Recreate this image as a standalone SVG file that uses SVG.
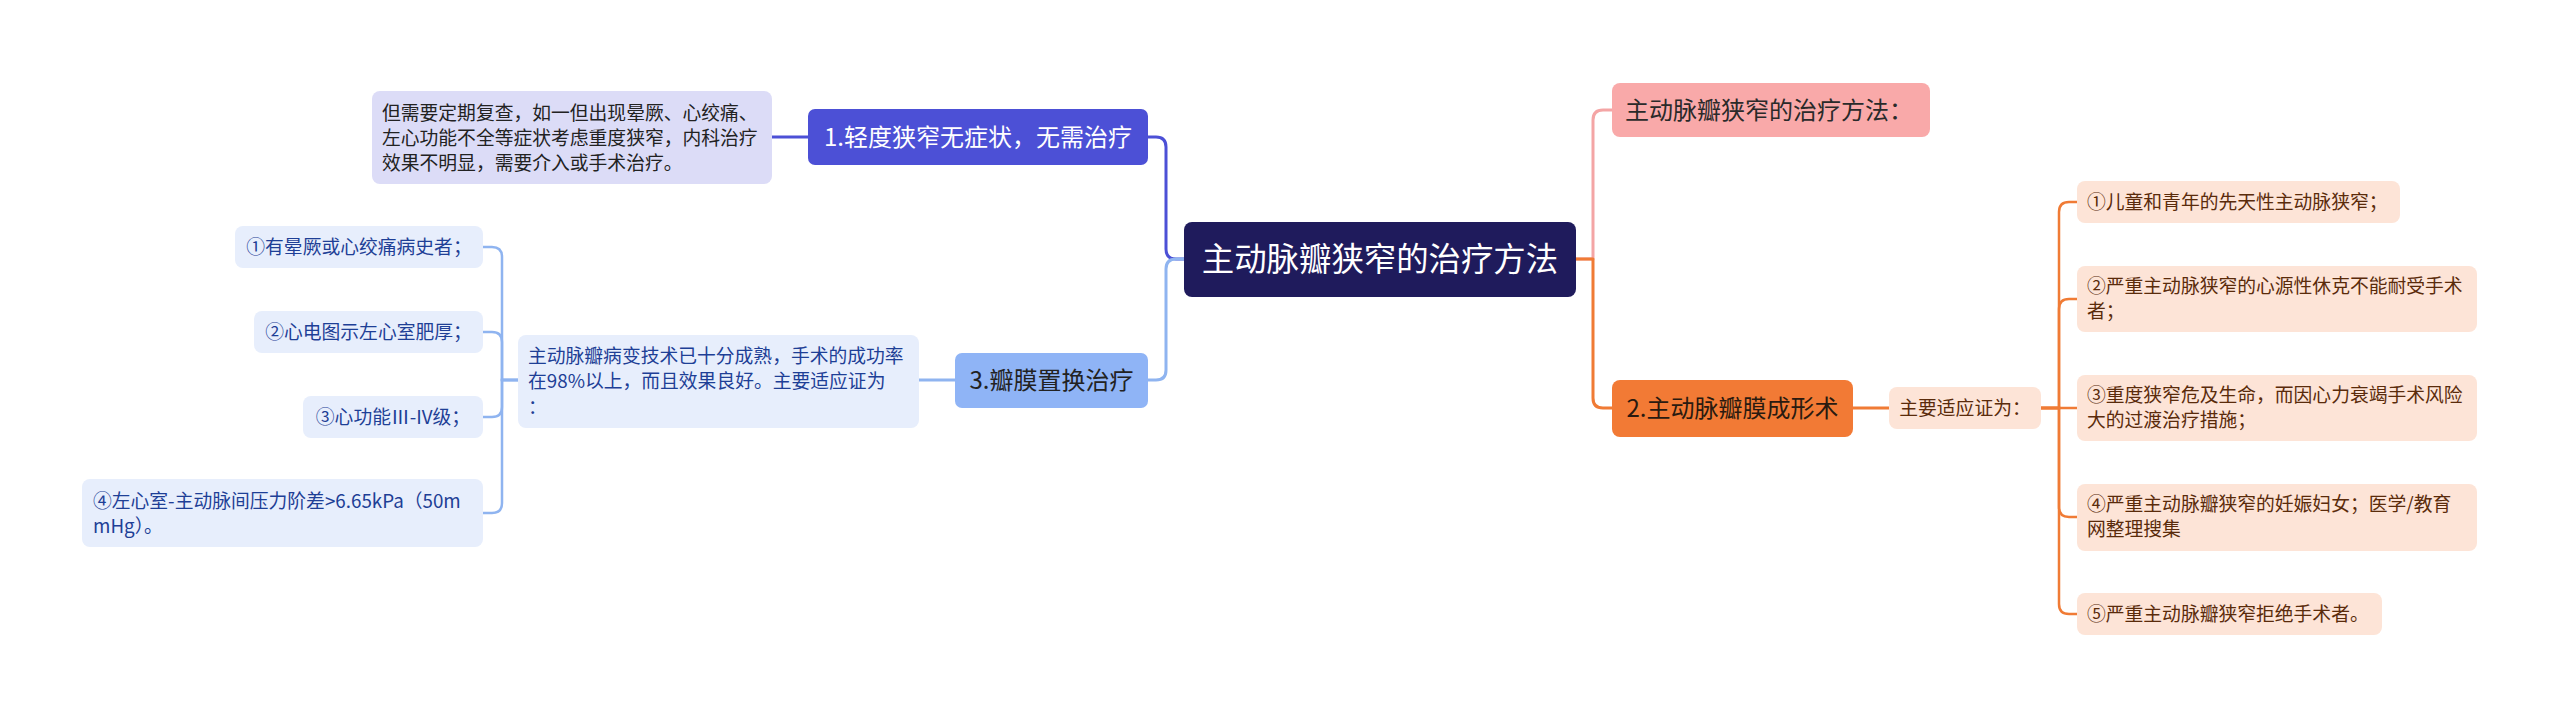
<svg xmlns="http://www.w3.org/2000/svg" width="2560" height="718" viewBox="0 0 2560 718">
<style>
text{font-family:"Noto Sans CJK SC","Noto Sans",sans-serif;}
.c{stroke-width:3;fill:none;stroke-linecap:round;stroke-linejoin:round}
.lf{stroke-width:2.5;fill:none;stroke-linecap:round}
.blue{stroke:#4c50d6}.lb{stroke:#8fb4f0}.pink{stroke:#f4a5a5}.org{stroke:#f07b35}
.t18{font-size:18.8px}.t24{font-size:24px}
.lt{fill:#1e3f96}.rt{fill:#5a2b0b}.dk{fill:#222}
</style>
<rect width="2560" height="718" fill="#fff"/>
<g id="connectors">
<path class="c blue" d="M772 137H808"/>
<path class="c blue" d="M1148 137H1156Q1166 137 1166 147V249Q1166 259 1176 259H1184"/>
<path class="c lb" d="M1148 380H1156Q1166 380 1166 370V269Q1166 259 1176 259H1184"/>
<path class="c lb" d="M919 380H955"/>
<path class="lf lb" d="M518 380H502V257Q502 247 492 247H483"/>
<path class="lf lb" d="M518 380H502V342Q502 332 492 332H483"/>
<path class="lf lb" d="M518 380H502V407Q502 417 492 417H483"/>
<path class="lf lb" d="M518 380H502V503Q502 513 492 513H483"/>
<path class="c pink" d="M1576 259H1593V120Q1593 110 1603 110H1612"/>
<path class="c org" d="M1576 259H1593V398Q1593 408 1603 408H1612"/>
<path class="c org" d="M1853 408H1889"/>
<path class="lf org" d="M2041 408H2059V212Q2059 202 2069 202H2077"/>
<path class="lf org" d="M2041 408H2059V309Q2059 299 2069 299H2077"/>
<path class="lf org" d="M2041 408H2077"/>
<path class="lf org" d="M2041 408H2059V507Q2059 517 2069 517H2077"/>
<path class="lf org" d="M2041 408H2059V604Q2059 614 2069 614H2077"/>
</g>
<g id="root">
<rect x="1184" y="222" width="392" height="75" rx="8" fill="#1f1b5c"/>
<text x="1380" y="271" font-size="32.4" fill="#fff" text-anchor="middle">主动脉瓣狭窄的治疗方法</text>
</g>
<g id="n1">
<rect x="808" y="109" width="340" height="56" rx="7" fill="#4c50d6"/>
<text x="978" y="146" class="t24" fill="#fff" text-anchor="middle">1.轻度狭窄无症状，无需治疗</text>
</g>
<g id="n1d">
<rect x="372" y="91" width="400" height="93" rx="8" fill="#dcdcf7"/>
<text class="t18 dk"><tspan x="382" y="119.5">但需要定期复查，如一但出现晕厥、心绞痛、</tspan><tspan x="382" y="144.5">左心功能不全等症状考虑重度狭窄，内科治疗</tspan><tspan x="382" y="169.5">效果不明显，需要介入或手术治疗。</tspan></text>
</g>
<g id="n3">
<rect x="955" y="353" width="193" height="55" rx="7" fill="#8fb4f6"/>
<text x="1051.5" y="389" class="t24 dk" text-anchor="middle">3.瓣膜置换治疗</text>
</g>
<g id="n3d">
<rect x="518" y="335" width="401" height="93" rx="8" fill="#e7eefc"/>
<text class="t18 lt"><tspan x="528" y="362.5">主动脉瓣病变技术已十分成熟，手术的成功率</tspan><tspan x="528" y="387.5">在98%以上，而且效果良好。主要适应证为</tspan><tspan x="528" y="413.5">：</tspan></text>
</g>
<g id="l1">
<rect x="235" y="226" width="248" height="42" rx="8" fill="#e7eefc"/>
<text x="359" y="253.5" class="t18 lt" text-anchor="middle">①有晕厥或心绞痛病史者；</text>
</g>
<g id="l2">
<rect x="254" y="311" width="229" height="42" rx="8" fill="#e7eefc"/>
<text x="368.5" y="338.5" class="t18 lt" text-anchor="middle">②心电图示左心室肥厚；</text>
</g>
<g id="l3">
<rect x="303" y="396" width="180" height="42" rx="8" fill="#e7eefc"/>
<text x="393" y="423.5" class="t18 lt" text-anchor="middle">③心功能Ⅲ-IV级；</text>
</g>
<g id="l4">
<rect x="82" y="479" width="401" height="68" rx="8" fill="#e7eefc"/>
<text class="t18 lt"><tspan x="93" y="507.5">④左心室-主动脉间压力阶差&gt;6.65kPa（50m</tspan><tspan x="93" y="532.5">mHg）。</tspan></text>
</g>
<g id="n0">
<rect x="1612" y="83" width="318" height="54" rx="8" fill="#f9a9a9"/>
<text x="1625" y="118.5" class="t24" fill="#2a2a2a">主动脉瓣狭窄的治疗方法：</text>
</g>
<g id="n2">
<rect x="1612" y="380" width="241" height="57" rx="8" fill="#f27a35"/>
<text x="1732.5" y="417" class="t24" fill="#2a1a10" text-anchor="middle">2.主动脉瓣膜成形术</text>
</g>
<g id="n2d">
<rect x="1889" y="387" width="152" height="42" rx="8" fill="#fde4d7"/>
<text x="1965" y="414.5" class="t18 rt" text-anchor="middle">主要适应证为：</text>
</g>
<g id="r1">
<rect x="2077" y="181" width="323" height="42" rx="8" fill="#fde4d7"/>
<text x="2087" y="208.5" class="t18 rt">①儿童和青年的先天性主动脉狭窄；</text>
</g>
<g id="r2">
<rect x="2077" y="266" width="400" height="66" rx="8" fill="#fde4d7"/>
<text class="t18 rt"><tspan x="2087" y="293">②严重主动脉狭窄的心源性休克不能耐受手术</tspan><tspan x="2087" y="318">者；</tspan></text>
</g>
<g id="r3">
<rect x="2077" y="375" width="400" height="66" rx="8" fill="#fde4d7"/>
<text class="t18 rt"><tspan x="2087" y="402">③重度狭窄危及生命，而因心力衰竭手术风险</tspan><tspan x="2087" y="427">大的过渡治疗措施；</tspan></text>
</g>
<g id="r4">
<rect x="2077" y="484" width="400" height="67" rx="8" fill="#fde4d7"/>
<text class="t18 rt"><tspan x="2087" y="511">④严重主动脉瓣狭窄的妊娠妇女；医学/教育</tspan><tspan x="2087" y="536">网整理搜集</tspan></text>
</g>
<g id="r5">
<rect x="2077" y="593" width="305" height="42" rx="8" fill="#fde4d7"/>
<text x="2087" y="620.5" class="t18 rt">⑤严重主动脉瓣狭窄拒绝手术者。</text>
</g>
</svg>
